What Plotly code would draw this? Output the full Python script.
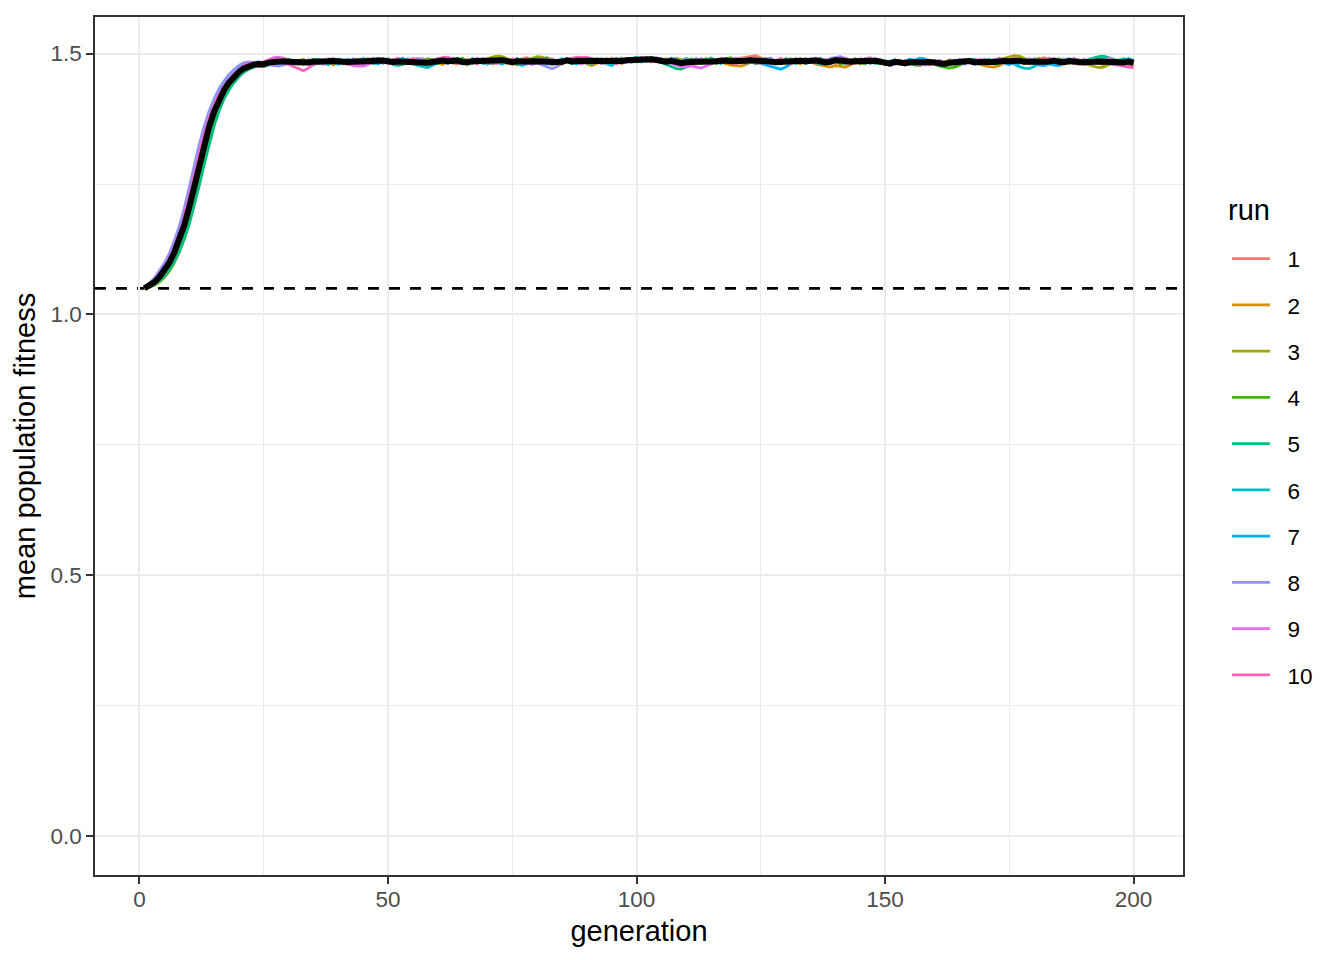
import numpy as np
import plotly.graph_objects as go

# generations 1..200 and the ten runs shown in the legend
generation = list(range(1, 201))
run_labels = ["1", "2", "3", "4", "5", "6", "7", "8", "9", "10"]
run_colors = [
    "#F8766D", "#D89000", "#A3A500", "#39B600", "#00BF7D",
    "#00BFC4", "#00B0F6", "#9590FF", "#E76BF3", "#FF62BC",
]
starting_fitness = 1.05

# mean population fitness per generation
run_1 = [
    1.050, 1.054, 1.061, 1.071, 1.083, 1.098, 1.117, 1.140,
    1.168, 1.201, 1.240, 1.282, 1.322, 1.357, 1.386, 1.409,
    1.427, 1.441, 1.453, 1.462, 1.469, 1.474, 1.478, 1.480,
    1.481, 1.486, 1.490, 1.492, 1.491, 1.488, 1.484, 1.480, 1.483, 1.488, 1.486, 1.481, 1.484, 1.489, 1.490, 1.485,
    1.481, 1.479, 1.484, 1.489, 1.487, 1.482, 1.485, 1.491, 1.489, 1.484, 1.481, 1.487, 1.486, 1.480, 1.483, 1.488,
    1.490, 1.485, 1.481, 1.487, 1.491, 1.488, 1.482, 1.480, 1.485, 1.489, 1.483, 1.484, 1.490, 1.488, 1.481, 1.484,
    1.488, 1.483, 1.479, 1.485, 1.490, 1.492, 1.487, 1.483, 1.481, 1.487, 1.490, 1.484, 1.481, 1.488, 1.486, 1.480,
    1.482, 1.488, 1.490, 1.484, 1.481, 1.485, 1.491, 1.487, 1.481, 1.484, 1.488, 1.492, 1.489, 1.493, 1.490, 1.486,
    1.484, 1.489, 1.485, 1.481, 1.487, 1.490, 1.484, 1.480, 1.486, 1.490, 1.483, 1.486, 1.491, 1.488, 1.483, 1.489,
    1.491, 1.493, 1.495, 1.496, 1.492, 1.487, 1.482, 1.485, 1.490, 1.484, 1.480, 1.486, 1.490, 1.483, 1.486, 1.490,
    1.484, 1.481, 1.487, 1.491, 1.485, 1.480, 1.486, 1.484, 1.490, 1.488, 1.481, 1.485, 1.489, 1.482, 1.479, 1.485,
    1.483, 1.478, 1.481, 1.487, 1.484, 1.480, 1.486, 1.483, 1.478, 1.481, 1.488, 1.485, 1.479, 1.486, 1.483, 1.489,
    1.486, 1.481, 1.488, 1.484, 1.491, 1.488, 1.482, 1.485, 1.490, 1.487, 1.480, 1.484, 1.488, 1.492, 1.489, 1.483,
    1.480, 1.487, 1.484, 1.480, 1.488, 1.485, 1.479, 1.482, 1.489, 1.486, 1.481, 1.479, 1.485, 1.482, 1.478, 1.476,
]
run_2 = [
    1.050, 1.054, 1.060, 1.069, 1.081, 1.096, 1.114, 1.137,
    1.165, 1.198, 1.237, 1.279, 1.319, 1.354, 1.383, 1.407,
    1.425, 1.440, 1.452, 1.461, 1.468, 1.473, 1.476, 1.478,
    1.478, 1.482, 1.485, 1.483, 1.480, 1.486, 1.484, 1.479, 1.481, 1.487, 1.485, 1.480, 1.486, 1.484, 1.478, 1.483,
    1.487, 1.481, 1.483, 1.489, 1.486, 1.480, 1.482, 1.488, 1.486, 1.481, 1.489, 1.486, 1.480, 1.485, 1.490, 1.483,
    1.480, 1.486, 1.489, 1.483, 1.479, 1.485, 1.491, 1.488, 1.482, 1.479, 1.486, 1.483, 1.489, 1.486, 1.480, 1.483,
    1.489, 1.486, 1.482, 1.478, 1.483, 1.489, 1.486, 1.482, 1.488, 1.485, 1.479, 1.483, 1.489, 1.486, 1.481, 1.488,
    1.486, 1.480, 1.477, 1.481, 1.487, 1.484, 1.490, 1.486, 1.481, 1.488, 1.485, 1.491, 1.487, 1.492, 1.489, 1.485,
    1.483, 1.490, 1.487, 1.481, 1.485, 1.490, 1.487, 1.482, 1.489, 1.486, 1.480, 1.487, 1.484, 1.480, 1.478, 1.477,
    1.476, 1.479, 1.484, 1.489, 1.486, 1.491, 1.487, 1.481, 1.485, 1.490, 1.487, 1.483, 1.480, 1.487, 1.485, 1.480,
    1.478, 1.476, 1.474, 1.477, 1.476, 1.474, 1.478, 1.484, 1.489, 1.486, 1.481, 1.488, 1.485, 1.481, 1.479, 1.485,
    1.483, 1.480, 1.486, 1.483, 1.478, 1.483, 1.487, 1.481, 1.478, 1.484, 1.487, 1.481, 1.483, 1.489, 1.486, 1.482,
    1.480, 1.477, 1.475, 1.474, 1.477, 1.482, 1.487, 1.484, 1.489, 1.486, 1.482, 1.488, 1.491, 1.486, 1.481, 1.487,
    1.485, 1.480, 1.487, 1.484, 1.479, 1.482, 1.488, 1.485, 1.481, 1.478, 1.484, 1.488, 1.482, 1.479, 1.485, 1.482,
]
run_3 = [
    1.050, 1.052, 1.056, 1.062, 1.071, 1.083, 1.099, 1.120,
    1.146, 1.178, 1.216, 1.258, 1.300, 1.339, 1.372, 1.399,
    1.420, 1.436, 1.449, 1.459, 1.467, 1.472, 1.476, 1.478,
    1.477, 1.480, 1.484, 1.486, 1.488, 1.484, 1.481, 1.486, 1.489, 1.483, 1.480, 1.486, 1.484, 1.489, 1.486, 1.481,
    1.483, 1.488, 1.485, 1.481, 1.487, 1.490, 1.485, 1.481, 1.487, 1.484, 1.480, 1.486, 1.489, 1.483, 1.485, 1.490,
    1.487, 1.481, 1.484, 1.490, 1.487, 1.481, 1.484, 1.488, 1.482, 1.479, 1.485, 1.489, 1.486, 1.490, 1.493, 1.495,
    1.494, 1.490, 1.486, 1.483, 1.481, 1.487, 1.491, 1.494, 1.493, 1.488, 1.483, 1.481, 1.487, 1.484, 1.481, 1.487,
    1.490, 1.484, 1.481, 1.487, 1.483, 1.490, 1.487, 1.481, 1.484, 1.490, 1.487, 1.484, 1.490, 1.492, 1.488, 1.485,
    1.490, 1.484, 1.487, 1.491, 1.488, 1.482, 1.486, 1.490, 1.483, 1.486, 1.491, 1.485, 1.482, 1.489, 1.486, 1.482,
    1.486, 1.490, 1.483, 1.486, 1.491, 1.488, 1.482, 1.485, 1.490, 1.483, 1.487, 1.481, 1.484, 1.490, 1.486, 1.482,
    1.487, 1.481, 1.484, 1.490, 1.487, 1.482, 1.489, 1.486, 1.480, 1.484, 1.490, 1.487, 1.483, 1.479, 1.482, 1.487,
    1.485, 1.479, 1.482, 1.478, 1.477, 1.481, 1.487, 1.484, 1.478, 1.481, 1.487, 1.484, 1.479, 1.485, 1.488, 1.482,
    1.484, 1.489, 1.486, 1.481, 1.487, 1.491, 1.494, 1.496, 1.495, 1.491, 1.487, 1.482, 1.486, 1.480, 1.484, 1.489,
    1.487, 1.481, 1.484, 1.490, 1.486, 1.481, 1.478, 1.475, 1.473, 1.474, 1.479, 1.484, 1.488, 1.483, 1.487, 1.484,
]
run_4 = [
    1.050, 1.053, 1.058, 1.065, 1.075, 1.087, 1.103, 1.123,
    1.147, 1.176, 1.211, 1.251, 1.292, 1.331, 1.365, 1.393,
    1.415, 1.432, 1.446, 1.457, 1.465, 1.471, 1.475, 1.477,
    1.476, 1.479, 1.482, 1.485, 1.483, 1.480, 1.486, 1.484, 1.479, 1.485, 1.489, 1.484, 1.480, 1.486, 1.489, 1.485,
    1.480, 1.483, 1.489, 1.486, 1.490, 1.487, 1.481, 1.484, 1.490, 1.487, 1.483, 1.480, 1.486, 1.490, 1.485, 1.481,
    1.484, 1.490, 1.487, 1.481, 1.484, 1.488, 1.482, 1.487, 1.491, 1.485, 1.481, 1.487, 1.484, 1.480, 1.486, 1.490,
    1.485, 1.481, 1.487, 1.490, 1.484, 1.487, 1.481, 1.484, 1.490, 1.492, 1.487, 1.483, 1.480, 1.487, 1.484, 1.490,
    1.487, 1.481, 1.484, 1.490, 1.486, 1.483, 1.480, 1.486, 1.491, 1.485, 1.488, 1.492, 1.489, 1.486, 1.491, 1.488,
    1.485, 1.482, 1.489, 1.486, 1.481, 1.484, 1.490, 1.486, 1.482, 1.490, 1.487, 1.481, 1.484, 1.490, 1.492, 1.486,
    1.482, 1.489, 1.486, 1.480, 1.484, 1.490, 1.487, 1.483, 1.480, 1.486, 1.490, 1.484, 1.487, 1.481, 1.484, 1.490,
    1.487, 1.482, 1.489, 1.486, 1.480, 1.483, 1.487, 1.490, 1.484, 1.480, 1.487, 1.484, 1.480, 1.485, 1.481, 1.483,
    1.487, 1.481, 1.484, 1.479, 1.482, 1.488, 1.484, 1.479, 1.476, 1.474, 1.472, 1.474, 1.478, 1.483, 1.486, 1.482,
    1.487, 1.483, 1.488, 1.485, 1.480, 1.486, 1.484, 1.480, 1.487, 1.490, 1.485, 1.481, 1.487, 1.484, 1.480, 1.487,
    1.490, 1.485, 1.481, 1.487, 1.484, 1.480, 1.487, 1.485, 1.481, 1.483, 1.488, 1.485, 1.481, 1.484, 1.488, 1.483,
]
run_5 = [
    1.050, 1.053, 1.057, 1.064, 1.073, 1.085, 1.101, 1.120,
    1.144, 1.173, 1.207, 1.246, 1.287, 1.326, 1.361, 1.390,
    1.413, 1.430, 1.444, 1.455, 1.464, 1.470, 1.474, 1.476,
    1.475, 1.478, 1.481, 1.484, 1.487, 1.489, 1.484, 1.480, 1.486, 1.483, 1.489, 1.486, 1.481, 1.479, 1.485, 1.489,
    1.486, 1.481, 1.488, 1.485, 1.480, 1.483, 1.489, 1.491, 1.486, 1.482, 1.479, 1.477, 1.479, 1.483, 1.480, 1.478,
    1.477, 1.480, 1.484, 1.487, 1.490, 1.484, 1.486, 1.491, 1.488, 1.484, 1.481, 1.488, 1.485, 1.480, 1.483, 1.489,
    1.491, 1.485, 1.481, 1.488, 1.484, 1.480, 1.487, 1.490, 1.485, 1.481, 1.488, 1.484, 1.481, 1.488, 1.491, 1.485,
    1.481, 1.484, 1.490, 1.487, 1.481, 1.484, 1.488, 1.491, 1.485, 1.488, 1.491, 1.493, 1.487, 1.490, 1.492, 1.486,
    1.483, 1.479, 1.475, 1.471, 1.470, 1.474, 1.480, 1.485, 1.490, 1.486, 1.491, 1.487, 1.484, 1.490, 1.487, 1.482,
    1.485, 1.490, 1.487, 1.484, 1.481, 1.487, 1.491, 1.485, 1.481, 1.488, 1.484, 1.490, 1.487, 1.481, 1.485, 1.488,
    1.491, 1.485, 1.481, 1.488, 1.491, 1.485, 1.481, 1.488, 1.484, 1.490, 1.487, 1.481, 1.484, 1.482, 1.478, 1.483,
    1.481, 1.486, 1.483, 1.478, 1.481, 1.487, 1.484, 1.481, 1.477, 1.482, 1.484, 1.487, 1.481, 1.484, 1.489, 1.486,
    1.483, 1.488, 1.485, 1.480, 1.483, 1.489, 1.485, 1.490, 1.487, 1.481, 1.484, 1.490, 1.487, 1.481, 1.485, 1.488,
    1.482, 1.485, 1.490, 1.487, 1.481, 1.484, 1.489, 1.492, 1.494, 1.495, 1.492, 1.489, 1.486, 1.490, 1.488, 1.484,
]
run_6 = [
    1.050, 1.055, 1.063, 1.073, 1.086, 1.102, 1.122, 1.146,
    1.175, 1.210, 1.250, 1.292, 1.332, 1.366, 1.394, 1.416,
    1.433, 1.446, 1.457, 1.465, 1.471, 1.476, 1.479, 1.480,
    1.480, 1.483, 1.481, 1.478, 1.480, 1.483, 1.479, 1.481, 1.485, 1.481, 1.478, 1.483, 1.480, 1.485, 1.483, 1.479,
    1.484, 1.487, 1.482, 1.484, 1.489, 1.486, 1.481, 1.484, 1.487, 1.490, 1.485, 1.481, 1.486, 1.484, 1.480, 1.477,
    1.475, 1.473, 1.477, 1.482, 1.487, 1.484, 1.489, 1.486, 1.481, 1.484, 1.490, 1.486, 1.483, 1.480, 1.486, 1.483,
    1.480, 1.486, 1.483, 1.479, 1.477, 1.481, 1.487, 1.484, 1.490, 1.486, 1.481, 1.484, 1.489, 1.486, 1.483, 1.480,
    1.486, 1.483, 1.489, 1.486, 1.482, 1.479, 1.477, 1.482, 1.489, 1.485, 1.491, 1.487, 1.484, 1.490, 1.492, 1.486,
    1.490, 1.484, 1.487, 1.482, 1.485, 1.490, 1.487, 1.483, 1.481, 1.487, 1.490, 1.484, 1.481, 1.487, 1.484, 1.490,
    1.487, 1.481, 1.484, 1.490, 1.487, 1.483, 1.481, 1.487, 1.484, 1.490, 1.487, 1.481, 1.484, 1.490, 1.487, 1.483,
    1.480, 1.487, 1.484, 1.490, 1.487, 1.481, 1.484, 1.488, 1.482, 1.485, 1.490, 1.486, 1.481, 1.480, 1.486, 1.483,
    1.480, 1.486, 1.483, 1.480, 1.478, 1.483, 1.487, 1.481, 1.484, 1.479, 1.482, 1.487, 1.484, 1.480, 1.486, 1.489,
    1.483, 1.486, 1.489, 1.483, 1.486, 1.489, 1.484, 1.479, 1.475, 1.472, 1.471, 1.475, 1.481, 1.487, 1.484, 1.489,
    1.486, 1.481, 1.488, 1.485, 1.481, 1.488, 1.485, 1.481, 1.488, 1.491, 1.486, 1.481, 1.487, 1.484, 1.490, 1.487,
]
run_7 = [
    1.050, 1.057, 1.067, 1.079, 1.094, 1.112, 1.135, 1.162,
    1.195, 1.234, 1.276, 1.318, 1.356, 1.387, 1.412, 1.432,
    1.447, 1.459, 1.468, 1.475, 1.479, 1.482, 1.483, 1.484,
    1.482, 1.484, 1.487, 1.484, 1.489, 1.486, 1.482, 1.486, 1.483, 1.480, 1.486, 1.489, 1.485, 1.481, 1.485, 1.489,
    1.486, 1.489, 1.482, 1.485, 1.490, 1.487, 1.483, 1.480, 1.487, 1.485, 1.481, 1.488, 1.491, 1.485, 1.481, 1.487,
    1.485, 1.480, 1.487, 1.490, 1.484, 1.481, 1.488, 1.485, 1.480, 1.484, 1.490, 1.487, 1.481, 1.485, 1.489, 1.484,
    1.480, 1.487, 1.484, 1.490, 1.487, 1.481, 1.485, 1.489, 1.484, 1.480, 1.487, 1.484, 1.490, 1.487, 1.481, 1.484,
    1.488, 1.485, 1.480, 1.486, 1.490, 1.484, 1.481, 1.487, 1.484, 1.490, 1.487, 1.492, 1.489, 1.485, 1.491, 1.488,
    1.483, 1.486, 1.491, 1.488, 1.482, 1.480, 1.486, 1.490, 1.483, 1.487, 1.481, 1.484, 1.490, 1.487, 1.483, 1.489,
    1.487, 1.483, 1.489, 1.486, 1.481, 1.478, 1.475, 1.472, 1.470, 1.474, 1.480, 1.486, 1.489, 1.484, 1.490, 1.487,
    1.483, 1.480, 1.487, 1.484, 1.490, 1.487, 1.481, 1.484, 1.488, 1.482, 1.485, 1.490, 1.487, 1.481, 1.484, 1.488,
    1.482, 1.485, 1.489, 1.487, 1.491, 1.490, 1.485, 1.481, 1.486, 1.483, 1.480, 1.486, 1.484, 1.480, 1.486, 1.483,
    1.480, 1.486, 1.483, 1.489, 1.486, 1.481, 1.479, 1.484, 1.481, 1.487, 1.484, 1.481, 1.478, 1.477, 1.480, 1.478,
    1.477, 1.481, 1.484, 1.490, 1.486, 1.482, 1.487, 1.490, 1.485, 1.481, 1.487, 1.484, 1.481, 1.487, 1.490, 1.485,
]
run_8 = [
    1.051, 1.059, 1.070, 1.083, 1.098, 1.117, 1.141, 1.169,
    1.203, 1.243, 1.285, 1.325, 1.360, 1.389, 1.412, 1.431,
    1.446, 1.459, 1.469, 1.477, 1.482, 1.484, 1.483, 1.482,
    1.481, 1.479, 1.477, 1.476, 1.478, 1.482, 1.485, 1.487, 1.483, 1.488, 1.485, 1.481, 1.487, 1.490, 1.484, 1.481,
    1.487, 1.484, 1.490, 1.487, 1.482, 1.488, 1.491, 1.485, 1.481, 1.488, 1.486, 1.480, 1.483, 1.489, 1.486, 1.491,
    1.488, 1.482, 1.485, 1.489, 1.483, 1.486, 1.491, 1.487, 1.484, 1.480, 1.487, 1.484, 1.490, 1.487, 1.481, 1.485,
    1.489, 1.485, 1.481, 1.488, 1.485, 1.481, 1.479, 1.482, 1.478, 1.474, 1.471, 1.475, 1.481, 1.487, 1.484, 1.490,
    1.486, 1.481, 1.487, 1.490, 1.484, 1.481, 1.487, 1.484, 1.490, 1.487, 1.483, 1.490, 1.493, 1.487, 1.490, 1.492,
    1.487, 1.483, 1.490, 1.487, 1.481, 1.488, 1.484, 1.490, 1.487, 1.482, 1.480, 1.486, 1.490, 1.484, 1.488, 1.481,
    1.484, 1.490, 1.487, 1.481, 1.485, 1.488, 1.491, 1.485, 1.481, 1.488, 1.484, 1.490, 1.487, 1.483, 1.489, 1.491,
    1.489, 1.486, 1.491, 1.493, 1.494, 1.491, 1.487, 1.483, 1.489, 1.486, 1.481, 1.484, 1.487, 1.485, 1.481, 1.479,
    1.485, 1.481, 1.479, 1.486, 1.483, 1.478, 1.481, 1.487, 1.484, 1.479, 1.486, 1.483, 1.489, 1.486, 1.482, 1.479,
    1.485, 1.489, 1.483, 1.486, 1.491, 1.488, 1.484, 1.481, 1.487, 1.484, 1.490, 1.487, 1.481, 1.484, 1.489, 1.483,
    1.485, 1.490, 1.487, 1.481, 1.484, 1.489, 1.485, 1.481, 1.488, 1.485, 1.491, 1.487, 1.484, 1.481, 1.487, 1.484,
]
run_9 = [
    1.050, 1.055, 1.064, 1.075, 1.088, 1.105, 1.126, 1.151,
    1.182, 1.219, 1.260, 1.302, 1.340, 1.372, 1.398, 1.419,
    1.435, 1.448, 1.459, 1.468, 1.475, 1.480, 1.482, 1.483,
    1.484, 1.488, 1.492, 1.493, 1.489, 1.485, 1.481, 1.487, 1.484, 1.480, 1.487, 1.485, 1.480, 1.483, 1.488, 1.485,
    1.482, 1.479, 1.477, 1.476, 1.476, 1.479, 1.483, 1.488, 1.486, 1.482, 1.488, 1.491, 1.485, 1.481, 1.487, 1.484,
    1.481, 1.487, 1.484, 1.490, 1.487, 1.481, 1.484, 1.488, 1.485, 1.481, 1.487, 1.491, 1.485, 1.481, 1.488, 1.485,
    1.490, 1.487, 1.481, 1.484, 1.488, 1.485, 1.480, 1.486, 1.490, 1.484, 1.481, 1.487, 1.484, 1.490, 1.487, 1.483,
    1.480, 1.487, 1.490, 1.484, 1.488, 1.482, 1.485, 1.490, 1.487, 1.483, 1.490, 1.487, 1.492, 1.489, 1.485, 1.491,
    1.489, 1.484, 1.481, 1.478, 1.475, 1.474, 1.477, 1.474, 1.472, 1.476, 1.481, 1.486, 1.490, 1.484, 1.487, 1.491,
    1.488, 1.482, 1.485, 1.491, 1.487, 1.484, 1.481, 1.487, 1.490, 1.484, 1.481, 1.487, 1.484, 1.490, 1.488, 1.482,
    1.485, 1.489, 1.482, 1.485, 1.491, 1.487, 1.481, 1.484, 1.489, 1.482, 1.485, 1.490, 1.487, 1.482, 1.479, 1.485,
    1.483, 1.479, 1.486, 1.483, 1.478, 1.484, 1.480, 1.486, 1.483, 1.478, 1.481, 1.487, 1.484, 1.480, 1.486, 1.483,
    1.489, 1.486, 1.481, 1.488, 1.485, 1.481, 1.487, 1.490, 1.484, 1.481, 1.488, 1.485, 1.481, 1.488, 1.484, 1.490,
    1.487, 1.481, 1.484, 1.490, 1.487, 1.481, 1.485, 1.488, 1.482, 1.485, 1.490, 1.487, 1.481, 1.484, 1.480, 1.482,
]
run_10 = [
    1.050, 1.056, 1.065, 1.076, 1.090, 1.107, 1.128, 1.154,
    1.185, 1.222, 1.264, 1.306, 1.344, 1.376, 1.401, 1.421,
    1.437, 1.450, 1.461, 1.469, 1.476, 1.480, 1.482, 1.483,
    1.483, 1.487, 1.489, 1.485, 1.482, 1.479, 1.475, 1.471, 1.467, 1.472, 1.479, 1.484, 1.488, 1.484, 1.489, 1.486,
    1.481, 1.487, 1.484, 1.480, 1.483, 1.489, 1.486, 1.490, 1.487, 1.481, 1.484, 1.489, 1.482, 1.485, 1.491, 1.487,
    1.483, 1.480, 1.487, 1.490, 1.492, 1.493, 1.489, 1.484, 1.481, 1.487, 1.484, 1.480, 1.487, 1.490, 1.485, 1.481,
    1.487, 1.484, 1.490, 1.487, 1.481, 1.484, 1.488, 1.482, 1.485, 1.490, 1.487, 1.483, 1.480, 1.487, 1.491, 1.493,
    1.492, 1.493, 1.489, 1.484, 1.481, 1.487, 1.484, 1.480, 1.487, 1.490, 1.484, 1.487, 1.491, 1.488, 1.484, 1.490,
    1.487, 1.483, 1.489, 1.486, 1.482, 1.480, 1.486, 1.483, 1.489, 1.486, 1.481, 1.484, 1.490, 1.487, 1.483, 1.480,
    1.486, 1.483, 1.490, 1.487, 1.481, 1.484, 1.488, 1.483, 1.490, 1.487, 1.481, 1.484, 1.488, 1.482, 1.485, 1.491,
    1.487, 1.481, 1.484, 1.489, 1.485, 1.491, 1.487, 1.481, 1.484, 1.490, 1.492, 1.486, 1.482, 1.480, 1.478, 1.484,
    1.482, 1.478, 1.481, 1.487, 1.484, 1.480, 1.478, 1.483, 1.487, 1.481, 1.478, 1.484, 1.481, 1.487, 1.484, 1.480,
    1.486, 1.483, 1.480, 1.487, 1.490, 1.484, 1.486, 1.491, 1.488, 1.482, 1.485, 1.489, 1.482, 1.485, 1.491, 1.487,
    1.484, 1.481, 1.487, 1.485, 1.481, 1.479, 1.485, 1.482, 1.488, 1.485, 1.481, 1.479, 1.477, 1.476, 1.474, 1.473,
]

runs = [run_1, run_2, run_3, run_4, run_5, run_6, run_7, run_8, run_9, run_10]
assert all(len(r) == len(generation) for r in runs)

fig = go.Figure()

for label, color, values in zip(run_labels, run_colors, runs):
    fig.add_trace(
        go.Scatter(
            x=generation,
            y=values,
            mode="lines",
            # non-breaking spaces push the label away from the key line
            name="\u00a0\u00a0" + label,
            legendgroup=label,
            line=dict(color=color, width=2.8),
        )
    )

# black line: mean over the runs
mean_fitness = np.mean(np.array(runs), axis=0)
fig.add_trace(
    go.Scatter(
        x=generation,
        y=mean_fitness,
        mode="lines",
        line=dict(color="black", width=6),
        showlegend=False,
        hoverinfo="skip",
    )
)

fig.add_shape(
    type="line",
    xref="x domain",
    yref="y",
    x0=0,
    x1=1,
    y0=starting_fitness,
    y1=starting_fitness,
    line=dict(color="black", width=2.6, dash="11px,10px"),
    layer="below",
)

axis_style = dict(
    showgrid=True,
    gridcolor="#EBEBEB",
    gridwidth=2.3,
    zeroline=False,
    ticks="outside",
    ticklen=7,
    tickwidth=2,
    tickcolor="#333333",
    tickfont=dict(size=22.5, color="#4D4D4D"),
    showline=True,
    linecolor="#333333",
    linewidth=1.5,
    mirror=True,
)

fig.update_xaxes(
    range=[-8.95, 209.95],
    tick0=0,
    dtick=50,
    ticklabelstandoff=-4,
    minor=dict(tick0=0, dtick=25, showgrid=True, gridcolor="#EBEBEB", gridwidth=1.2),
    title=dict(text="generation", font=dict(size=29), standoff=10),
    **axis_style,
)
fig.update_yaxes(
    range=[-0.074, 1.57],
    tick0=0,
    dtick=0.5,
    tickformat=".1f",
    minor=dict(tick0=0, dtick=0.25, showgrid=True, gridcolor="#EBEBEB", gridwidth=1.2),
    title=dict(text="mean population fitness", font=dict(size=29), standoff=6),
    **axis_style,
)

# legend title drawn as its own label so it can sit further above the keys
fig.add_annotation(
    text="run",
    xref="paper",
    yref="paper",
    x=1.0395,
    y=0.7756,
    xanchor="left",
    yanchor="middle",
    showarrow=False,
    font=dict(size=29, color="black"),
)

fig.update_layout(
    width=1336,
    height=952,
    margin=dict(l=87, r=161, t=7, b=85),
    paper_bgcolor="white",
    plot_bgcolor="white",
    font=dict(family="Liberation Sans, Arial, sans-serif", color="black"),
    legend=dict(
        font=dict(size=22.5),
        x=1.0404,
        xanchor="left",
        y=0.4756,
        yanchor="middle",
        tracegroupgap=14,
        itemwidth=38,
        bgcolor="rgba(0,0,0,0)",
    ),
)

fig.write_html("out.html", config={"displayModeBar": False})
